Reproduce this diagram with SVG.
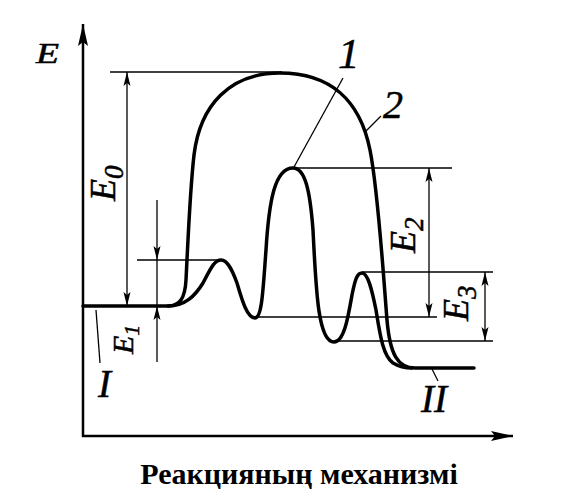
<svg xmlns="http://www.w3.org/2000/svg" width="561" height="501" viewBox="0 0 561 501">
<style>
  .curve{fill:none;stroke:#000;stroke-width:3.5;stroke-linejoin:round;stroke-linecap:round}
  .axis{fill:none;stroke:#000;stroke-width:2.5}
  .thin{fill:none;stroke:#000;stroke-width:1.3}
  .lbl{font-family:"Liberation Serif",serif;font-style:italic;fill:#000;stroke:#000;stroke-width:0.5}
  .cap{font-family:"Liberation Serif",serif;font-weight:bold;fill:#000}
</style>
<defs>
  <marker id="ah" viewBox="0 0 14 8" refX="14" refY="4" markerWidth="14" markerHeight="8" markerUnits="userSpaceOnUse" orient="auto-start-reverse">
    <path d="M0,0.5 L14,4 L0,7.5 L3,4 Z" fill="#000"/>
  </marker>
  <marker id="axh" viewBox="0 0 22 10" refX="22" refY="5" markerWidth="22" markerHeight="10" markerUnits="userSpaceOnUse" orient="auto">
    <path d="M0,0 L22,5 L0,10 L4,5 Z" fill="#000"/>
  </marker>
</defs>

<g id="axes">
  <line class="axis" x1="83" y1="437" x2="83" y2="24" marker-end="url(#axh)"/>
  <line class="axis" x1="82" y1="436" x2="513" y2="436" marker-end="url(#axh)"/>
  <text class="lbl" font-size="29" transform="translate(36,63) scale(1.3,1)">E</text>
</g>

<g id="connectors">
  <!-- level lines -->
  <line class="thin" x1="110" y1="72" x2="282" y2="72"/>
  <line class="thin" x1="137" y1="260" x2="221" y2="260"/>
  <line class="thin" x1="293" y1="168" x2="452" y2="168"/>
  <line class="thin" x1="254" y1="317" x2="437" y2="317"/>
  <line class="thin" x1="362" y1="272" x2="493" y2="272"/>
  <line class="thin" x1="334" y1="341" x2="493" y2="341"/>
  <!-- dimension arrows -->
  <line class="thin" x1="127" y1="72" x2="127" y2="306" marker-start="url(#ah)" marker-end="url(#ah)"/>
  <line class="thin" x1="157" y1="200" x2="157" y2="260" marker-end="url(#ah)"/>
  <line class="thin" x1="157" y1="260" x2="157" y2="306"/>
  <line class="thin" x1="157" y1="362" x2="157" y2="306" marker-end="url(#ah)"/>
  <line class="thin" x1="429" y1="168" x2="429" y2="317" marker-start="url(#ah)" marker-end="url(#ah)"/>
  <line class="thin" x1="485" y1="272" x2="485" y2="341" marker-start="url(#ah)" marker-end="url(#ah)"/>
  <!-- leaders -->
  <line class="thin" x1="294" y1="167" x2="343" y2="78"/>
  <line class="thin" x1="365" y1="132" x2="381" y2="116"/>
  <line class="thin" x1="96" y1="310" x2="100" y2="363"/>
  <line class="thin" x1="432" y1="369" x2="438" y2="381"/>
</g>

<g id="curve2">
  <path class="curve" d="M83,306 L168,306 C180,306 185,298 186,280 C188,240 190,190 194,155 C200,105 230,73 280,73 C330,73 360,100 370,150 C378,190 383,270 387,320 C390,355 398,368 415,368 L474,368"/>
</g>

<g id="curve1">
  <path class="curve" d="M168,306 C185,306 195,296 203,283 C210,270 214,260 221,260 C228,260 233,272 237,283 C242,300 247,318 255,318 C262,318 263,290 266,250 C269,200 275,168 293,168 C305,168 310,190 313,230 C316,290 318,342 334,342 C344,342 348,318 352,295 C355,280 357,273 362,273 C368,273 372,290 376,310 C380,335 383,356 393,363 C398,366 403,368 412,368"/>
</g>

<g id="labels">
  <text class="lbl" x="338" y="68" font-size="43">1</text>
  <text class="lbl" x="383" y="118" font-size="40">2</text>
  <text class="lbl" x="98" y="397" font-size="39">I</text>
  <text class="lbl" x="421" y="412" font-size="39">II</text>
  <text class="lbl" font-size="36" transform="translate(115,201) rotate(-90)">E<tspan font-size="27" dy="8">0</tspan></text>
  <text class="lbl" font-size="30" transform="translate(133,354) rotate(-90)">E<tspan font-size="22" dy="6">1</tspan></text>
  <text class="lbl" font-size="36" transform="translate(415,253) rotate(-90)">E<tspan font-size="27" dy="8">2</tspan></text>
  <text class="lbl" font-size="36" transform="translate(468,321) rotate(-90)">E<tspan font-size="27" dy="8">3</tspan></text>
</g>

<g id="caption">
  <text class="cap" x="299" y="484" font-size="30" text-anchor="middle">Реакцияның механизмі</text>
</g>
</svg>
